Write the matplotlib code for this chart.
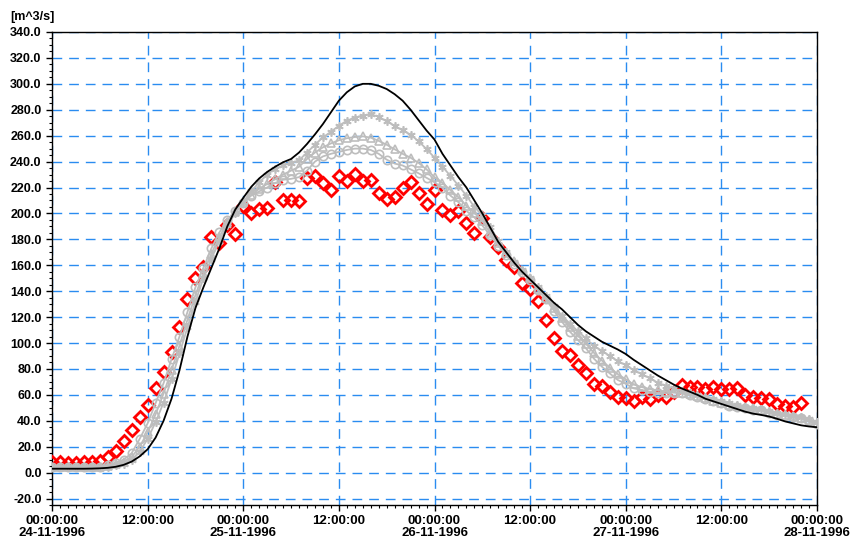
"""Discharge hydrograph, 24-11-1996 .. 28-11-1996."""
import datetime

import matplotlib
matplotlib.use("Agg")
import matplotlib.pyplot as plt
import matplotlib.dates as mdates
from matplotlib.ticker import MultipleLocator, FuncFormatter

START = datetime.datetime(1996, 11, 24, 0, 0)
END = datetime.datetime(1996, 11, 28, 0, 0)

# hourly values [m^3/s], starting 24-11-1996 00:00
OBSERVED = [
    7.9, 8, 7.5, 7.5, 8, 8, 9, 11.8, 17, 24.6,
    32.6, 42.6, 51.8, 64.9, 78, 93.3, 112.6, 133.6, 150, 158.7,
    181.8, 177, 190.8, 184, 206, 200, 203.6, 204, 224, 210,
    210, 209.5, 227.4, 228.5, 223.6, 218, 228.5, 225.4, 230.5, 225.4,
    226, 216, 210.8, 213, 220, 224, 215.6, 207.4, 218, 203,
    198.5, 202, 192.6, 185, 196.7, 181.8, 174, 163.8, 158.7, 146,
    141.3, 132.3, 118, 103.6, 94, 90.8, 83, 77, 68.5, 67,
    62.5, 58.7, 57.4, 55.6, 58, 56.7, 60, 58.7, 62.5, 67.7,
    66, 66, 64.4, 66, 64.4, 64.4, 65, 60, 58.7, 57.4,
    57, 53, 51.5, 50.5, 53.6,
]

BLACK = [
    3.0, 3.0, 3.0, 3.0, 3.0, 3.1, 3.3, 3.7, 4.5, 6.0,
    8.5, 12.5, 18, 27, 40, 57, 79, 105, 127, 143,
    158, 173, 190, 203, 212, 220.5, 227, 232, 236, 239.5,
    242, 247, 253.6, 261, 269, 278, 287, 293.5, 298, 300,
    300, 298.5, 296, 292, 287, 280, 272, 264, 257, 246,
    237, 228, 220, 210, 200, 189, 178, 170, 162, 155,
    149, 143, 137, 131, 126, 120, 114, 109, 105, 101,
    98, 95, 91.5, 87, 83, 79, 75, 71.5, 68, 65,
    62.5, 60, 57, 55, 53, 51, 49, 47, 45.5, 44.5,
    43.3, 41.5, 39.5, 38, 36.5, 35.6, 35,
]

CIRCLES = [
    4.5, 4.5, 4.5, 4.5, 4.5, 4.5, 4.6, 5.5, 7.5, 10,
    15, 26, 38, 53.6, 69, 87.5, 105, 124, 143, 158,
    173, 185.3, 194.8, 202, 208, 213.8, 217, 220, 223.5, 226,
    226.7, 228, 233, 240, 244, 246, 247.5, 249, 250, 250,
    249, 246, 241.5, 238.5, 237, 234, 231, 227.5, 224, 219.8,
    213.8, 208.7, 202, 197, 190.8, 183, 175, 167.7, 161, 155,
    148.5, 140.8, 133.6, 124.8, 116.4, 108.7, 102.3, 96, 88, 81.8,
    76.5, 71.5, 68.5, 65, 63.8, 62.5, 61.8, 61.3, 61.8, 61.3,
    60, 58.7, 56.7, 55, 53.6, 51.5, 50.5, 49.7, 48.5, 48,
    46, 44.6, 43.8, 42.8, 42, 39.5, 37.5,
]

TRIANGLES = [
    4.2, 4.2, 4.2, 4.2, 4.2, 4.2, 4.3, 5, 6.5, 8.5,
    12, 20, 31, 45, 61, 79, 98, 118, 137, 154,
    169, 182, 193, 201, 208.5, 214.5, 219, 223, 226.5, 230,
    233, 236, 242, 247, 251, 254, 256.5, 258, 259, 259.5,
    258.5, 256, 253, 249.5, 246, 243, 239, 234, 228, 223.5,
    218, 212.5, 206, 200.5, 194, 185, 177, 169.5, 163, 156.5,
    150, 142, 135, 127, 119, 112, 105.5, 99.5, 92.5, 86.5,
    81, 76, 72, 68, 66, 64.5, 63.5, 62.5, 62, 61.5,
    60.5, 59, 57.5, 55.5, 54, 52.5, 51.5, 50.5, 49.5, 48.5,
    47, 45.5, 44.5, 43.5, 42.5, 40.5, 38.5,
]

STARS = [
    4, 4, 4, 4, 4, 4, 4.1, 4.5, 5.5, 7,
    10, 16, 26, 39, 54, 72, 92, 112, 132, 150,
    165, 179, 191, 200, 209, 217, 224, 230, 234.5, 237,
    239, 241, 247, 253, 258.7, 263, 267.7, 271.5, 274, 275.5,
    276.5, 274.6, 271, 267.7, 264, 260.8, 255.6, 249.7, 243, 236,
    229, 221.5, 213.8, 205, 198.5, 189.5, 179, 170, 162.5, 156,
    150, 143, 136, 128.5, 121, 115, 109, 103.6, 97.7, 94,
    90, 86, 83, 79, 76, 72.8, 69.5, 67, 65, 63,
    61.5, 60, 58, 56.5, 55, 53.5, 52, 51, 50, 49,
    47.5, 46, 45, 44, 43, 41, 39,
]

GRAY = "#bdbdbd"
GRID = "#2a8cf0"


def hours(n):
    return [START + datetime.timedelta(hours=i) for i in range(n)]


def xlabel(v, pos):
    d = mdates.num2date(v)
    if d.hour == 0:
        return d.strftime("%H:%M:%S\n%d-%m-%Y")
    return d.strftime("%H:%M:%S")


def main():
    plt.rcParams["font.family"] = ["Liberation Sans", "DejaVu Sans"]
    plt.rcParams["font.weight"] = "bold"

    fig = plt.figure(figsize=(8.53, 5.39), dpi=100)
    ax = fig.add_axes([52 / 853, 34 / 539, 765 / 853, 473 / 539])

    ax.plot(hours(len(OBSERVED)), OBSERVED, linestyle="none", marker="D",
            markersize=6, markerfacecolor="none", markeredgecolor="#ff0000",
            markeredgewidth=2.0, zorder=3)
    kw = dict(color=GRAY, lw=1.3, markersize=6, markerfacecolor="none",
              markeredgecolor=GRAY, markeredgewidth=1.2, zorder=4)
    ax.plot(hours(len(CIRCLES)), CIRCLES, marker="o", **kw)
    ax.plot(hours(len(TRIANGLES)), TRIANGLES, marker="^", **kw)
    ax.plot(hours(len(STARS)), STARS, marker=(6, 2, 0), **kw)
    ax.plot(hours(len(BLACK)), BLACK, color="black", lw=1.3, zorder=5)

    ax.set_xlim(START, END)
    ax.set_ylim(-25, 340)
    ax.xaxis.set_major_locator(mdates.HourLocator(byhour=[0, 12]))
    ax.xaxis.set_minor_locator(mdates.HourLocator())
    ax.xaxis.set_major_formatter(FuncFormatter(xlabel))
    ax.yaxis.set_major_locator(MultipleLocator(20))
    ax.yaxis.set_minor_locator(MultipleLocator(5))
    ax.yaxis.set_major_formatter(lambda v, p: f"{v:.1f}")

    ax.grid(True, which="major", color=GRID, linestyle=(0, (7, 5)), lw=1.0)
    ax.tick_params(which="major", direction="out", length=4, width=1,
                   labelsize=9)
    ax.tick_params(axis="x", which="major", pad=3, labelsize=9.5)
    ax.tick_params(which="minor", direction="out", length=2.5, width=0.8)
    for lab in ax.get_xticklabels() + ax.get_yticklabels():
        lab.set_fontweight("bold")
    for lab in ax.get_xticklabels():
        lab.set_linespacing(1.05)
    for s in ax.spines.values():
        s.set_linewidth(1.0)

    fig.text(10 / 853, 1 - 17 / 539, "[m^3/s]", ha="left", va="center",
             fontsize=9, fontweight="bold")

    fig.savefig("out.png", dpi=100)


if __name__ == "__main__":
    main()
